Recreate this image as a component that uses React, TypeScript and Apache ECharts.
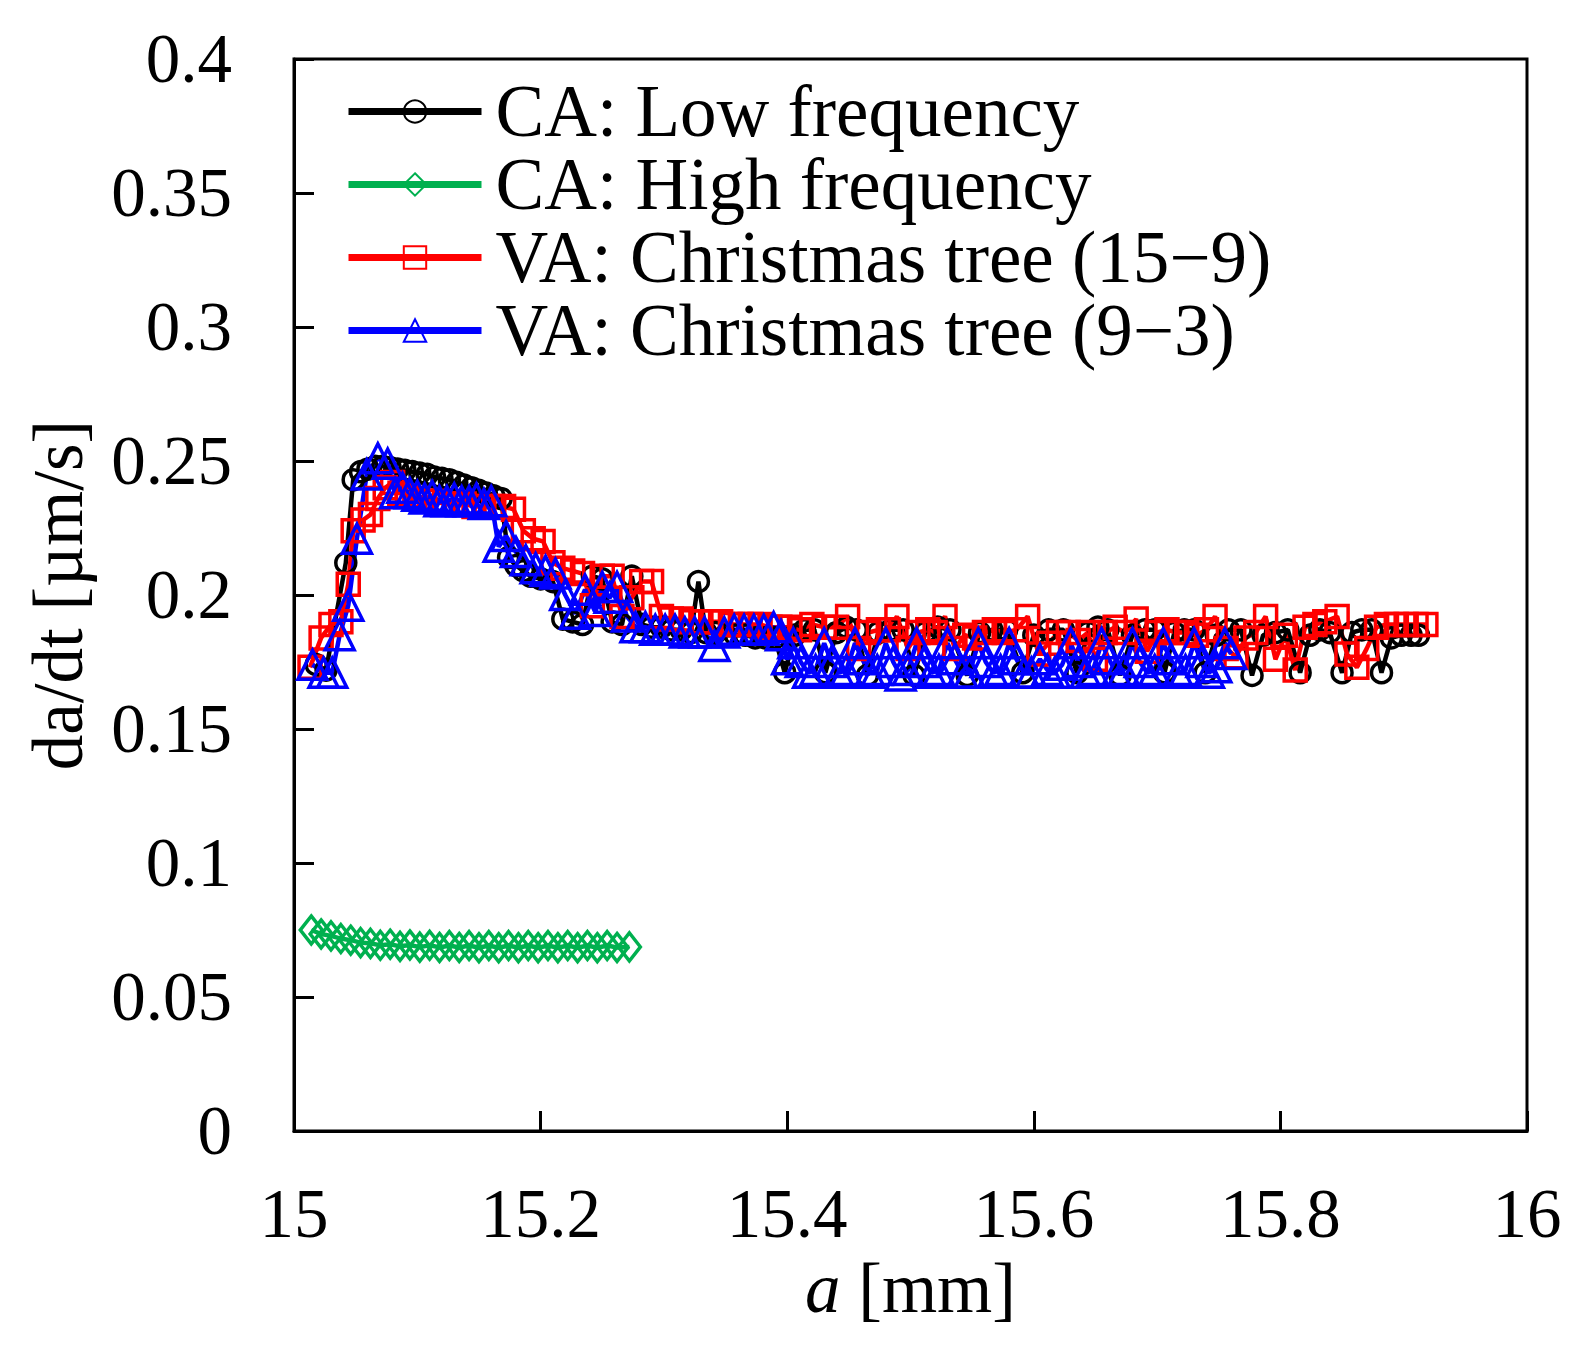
import React, { useEffect, useRef } from "react";
import * as echarts from "echarts";

const FONT = "Liberation Serif";

const seriesNames = [
  "CA: Low frequency",
  "CA: High frequency",
  "VA: Christmas tree (15\u22129)",
  "VA: Christmas tree (9\u22123)",
];

// CA: Low frequency (black, circles)
const lowX = [
  15.018, 15.026, 15.042, 15.048, 15.054, 15.06, 15.066, 15.072, 15.078, 15.084,
  15.09, 15.096, 15.102, 15.108, 15.114, 15.12, 15.126, 15.132, 15.138, 15.144,
  15.15, 15.156, 15.162, 15.168, 15.174, 15.18, 15.186, 15.192, 15.2, 15.21,
  15.218, 15.226, 15.234, 15.242, 15.25, 15.258, 15.266, 15.274, 15.282, 15.29,
  15.298, 15.306, 15.314, 15.322, 15.328, 15.334, 15.342, 15.35, 15.358, 15.366,
  15.374, 15.382, 15.39, 15.398, 15.406, 15.414, 15.422, 15.431, 15.44, 15.448,
  15.456, 15.465, 15.474, 15.484, 15.494, 15.503, 15.512, 15.522, 15.532, 15.546,
  15.556, 15.566, 15.578, 15.591, 15.6, 15.612, 15.624, 15.635, 15.644, 15.652,
  15.66, 15.67, 15.68, 15.69, 15.698, 15.706, 15.714, 15.722, 15.73, 15.739,
  15.748, 15.758, 15.768, 15.777, 15.786, 15.796, 15.806, 15.816, 15.824, 15.832,
  15.84, 15.85, 15.858, 15.866, 15.874, 15.882, 15.89, 15.898, 15.906, 15.912,
];
const lowY = [
  0.174, 0.172, 0.212, 0.243, 0.246, 0.247, 0.248, 0.248, 0.2475, 0.247,
  0.2465, 0.246, 0.2455, 0.245, 0.244, 0.2435, 0.243, 0.242, 0.241, 0.24,
  0.239, 0.238, 0.237, 0.236, 0.214, 0.211, 0.209, 0.207, 0.206, 0.205,
  0.191, 0.19, 0.189, 0.207, 0.206, 0.19, 0.189, 0.207, 0.189, 0.188,
  0.188, 0.187, 0.187, 0.186, 0.205, 0.186, 0.186, 0.185, 0.185, 0.185,
  0.184, 0.184, 0.184, 0.171, 0.185, 0.187, 0.187, 0.171, 0.186, 0.188,
  0.187, 0.17, 0.186, 0.187, 0.187, 0.17, 0.186, 0.188, 0.187, 0.17,
  0.186, 0.187, 0.187, 0.171, 0.185, 0.187, 0.187, 0.171, 0.186, 0.188,
  0.187, 0.17, 0.185, 0.187, 0.187, 0.171, 0.186, 0.187, 0.187, 0.171,
  0.185, 0.187, 0.187, 0.17, 0.185, 0.186, 0.187, 0.171, 0.185, 0.187,
  0.186, 0.171, 0.186, 0.187, 0.187, 0.171, 0.184, 0.185, 0.185, 0.185,
];

// CA: High frequency (green, diamonds)
const highX = [
  15.014, 15.022, 15.03, 15.038, 15.046, 15.054, 15.062, 15.07, 15.078, 15.086,
  15.094, 15.102, 15.11, 15.118, 15.126, 15.134, 15.142, 15.15, 15.158, 15.166,
  15.174, 15.182, 15.19, 15.198, 15.206, 15.214, 15.222, 15.23, 15.238, 15.246,
  15.254, 15.262, 15.272,
];
const highY = [
  0.075, 0.0735, 0.0728, 0.0718, 0.0712, 0.0703, 0.07, 0.0693, 0.0697, 0.0689,
  0.0694, 0.0686, 0.0693, 0.0685, 0.0692, 0.0685, 0.0692, 0.0684, 0.0692, 0.0684,
  0.0692, 0.0684, 0.0692, 0.0684, 0.0692, 0.0684, 0.0692, 0.0684, 0.0692, 0.0684,
  0.0692, 0.0685, 0.0687,
];

// VA: Christmas tree (15-9) (red, squares)
const treeAX = [
  15.013, 15.022, 15.03, 15.038, 15.044, 15.048, 15.056, 15.062, 15.068, 15.074,
  15.08, 15.086, 15.092, 15.098, 15.106, 15.114, 15.122, 15.13, 15.138, 15.146,
  15.154, 15.162, 15.17, 15.178, 15.186, 15.194, 15.202, 15.21, 15.218, 15.226,
  15.234, 15.242, 15.25, 15.258, 15.266, 15.274, 15.282, 15.29, 15.298, 15.306,
  15.314, 15.322, 15.33, 15.338, 15.346, 15.354, 15.362, 15.37, 15.378, 15.386,
  15.394, 15.402, 15.41, 15.42, 15.43, 15.44, 15.449, 15.458, 15.466, 15.474,
  15.482, 15.489, 15.498, 15.506, 15.514, 15.52, 15.528, 15.536, 15.544, 15.552,
  15.56, 15.568, 15.576, 15.586, 15.595, 15.604, 15.612, 15.62, 15.628, 15.636,
  15.644, 15.65, 15.658, 15.666, 15.674, 15.683, 15.692, 15.7, 15.708, 15.716,
  15.724, 15.732, 15.74, 15.747, 15.756, 15.764, 15.772, 15.78, 15.788, 15.796,
  15.804, 15.812, 15.82, 15.828, 15.836, 15.846, 15.854, 15.862, 15.87, 15.878,
  15.886, 15.894, 15.902, 15.91, 15.918,
];
const treeAY = [
  0.173, 0.184, 0.189, 0.19, 0.204, 0.224, 0.228, 0.23, 0.236, 0.24,
  0.242, 0.238, 0.237, 0.236, 0.235, 0.235, 0.234, 0.234, 0.234, 0.233,
  0.233, 0.233, 0.233, 0.232, 0.224, 0.221, 0.22, 0.212, 0.21, 0.209,
  0.208, 0.196, 0.207, 0.207, 0.192, 0.199, 0.205, 0.205, 0.192, 0.191,
  0.191, 0.19, 0.19, 0.19, 0.19, 0.189, 0.189, 0.189, 0.189, 0.188,
  0.188, 0.188, 0.187, 0.189, 0.188, 0.188, 0.192, 0.18, 0.186, 0.187,
  0.187, 0.192, 0.18, 0.186, 0.187, 0.186, 0.192, 0.18, 0.185, 0.184,
  0.186, 0.187, 0.186, 0.187, 0.192, 0.178, 0.182, 0.186, 0.186, 0.183,
  0.186, 0.176, 0.186, 0.188, 0.186, 0.191, 0.179, 0.186, 0.187, 0.186,
  0.186, 0.185, 0.187, 0.192, 0.18, 0.177, 0.184, 0.186, 0.192, 0.176,
  0.185, 0.172, 0.188, 0.189, 0.19, 0.192, 0.178, 0.173, 0.18, 0.188,
  0.189, 0.189, 0.189, 0.189, 0.189,
];

// VA: Christmas tree (9-3) (blue, triangles)
const treeBX = [
  15.015, 15.024, 15.031, 15.037, 15.044, 15.051, 15.059, 15.068, 15.076, 15.082,
  15.088, 15.094, 15.1, 15.106, 15.112, 15.118, 15.124, 15.13, 15.136, 15.142,
  15.148, 15.154, 15.16, 15.166, 15.172, 15.18, 15.188, 15.196, 15.204, 15.212,
  15.22, 15.228, 15.236, 15.244, 15.25, 15.256, 15.262, 15.27, 15.277, 15.285,
  15.293, 15.301, 15.309, 15.317, 15.325, 15.333, 15.341, 15.349, 15.357, 15.365,
  15.373, 15.381, 15.389, 15.395, 15.4, 15.405, 15.411, 15.417, 15.423, 15.43,
  15.436, 15.442, 15.448, 15.455, 15.461, 15.467, 15.473, 15.48, 15.486, 15.492,
  15.498, 15.505, 15.511, 15.517, 15.523, 15.53, 15.536, 15.542, 15.548, 15.555,
  15.561, 15.567, 15.573, 15.58, 15.586, 15.592, 15.598, 15.605, 15.611, 15.617,
  15.623, 15.63, 15.636, 15.642, 15.648, 15.655, 15.661, 15.667, 15.673, 15.68,
  15.686, 15.692, 15.698, 15.705, 15.711, 15.717, 15.723, 15.73, 15.736, 15.742,
  15.748, 15.755, 15.76,
];
const treeBY = [
  0.174, 0.171, 0.171, 0.185, 0.196, 0.221, 0.245, 0.251, 0.249, 0.238,
  0.24, 0.238, 0.237, 0.236, 0.237, 0.235, 0.235, 0.236, 0.235, 0.235,
  0.236, 0.234, 0.235, 0.218, 0.222, 0.216, 0.213, 0.21, 0.209, 0.208,
  0.2, 0.193, 0.202, 0.194, 0.203, 0.199, 0.203, 0.192, 0.188, 0.188,
  0.187, 0.187, 0.187, 0.186, 0.186, 0.186, 0.181, 0.186, 0.187, 0.187,
  0.187, 0.187, 0.188, 0.185, 0.176, 0.182, 0.175, 0.171, 0.172, 0.182,
  0.175, 0.171, 0.172, 0.182, 0.176, 0.171, 0.172, 0.182, 0.175, 0.17,
  0.172, 0.182, 0.175, 0.171, 0.172, 0.182, 0.176, 0.171, 0.171, 0.182,
  0.175, 0.171, 0.172, 0.182, 0.176, 0.171, 0.171, 0.176, 0.172, 0.171,
  0.174, 0.182, 0.175, 0.171, 0.172, 0.182, 0.176, 0.171, 0.172, 0.182,
  0.175, 0.171, 0.172, 0.182, 0.176, 0.171, 0.172, 0.182, 0.175, 0.171,
  0.173, 0.182, 0.178,
];

const xTicks = { min: 15, max: 16, interval: 0.2 };
const yTicks = { min: 0, max: 0.4, interval: 0.05 };

const pairs = (xs: number[], ys: number[]) => xs.map((x, i) => [x, ys[i]]);

const App = () => {
  const chartRef = useRef<HTMLDivElement>(null);

  useEffect(() => {
    if (!chartRef.current) return;
    const chart = echarts.init(chartRef.current, null, { renderer: "svg" });

    const mk = (
      name: string,
      data: number[][],
      color: string,
      symbol: string,
      symbolSize: number | number[]
    ) => ({
      name,
      type: "line",
      data,
      symbol,
      symbolSize,
      showAllSymbol: true,
      lineStyle: { color, width: 4.5 },
      itemStyle: { color: "rgba(0,0,0,0)", borderColor: color, borderWidth: 3.5 },
      emphasis: { disabled: true },
    });

    const option: any = {
      animation: false,
      backgroundColor: "#fff",
      grid: {
        left: 286,
        right: 53,
        top: 51,
        bottom: 210,
        show: true,
        borderColor: "#000",
        borderWidth: 3,
      },
      legend: {
        orient: "vertical",
        left: 332,
        top: 62,
        itemWidth: 133,
        itemHeight: 28,
        itemGap: 0,
        textStyle: {
          fontFamily: FONT,
          fontSize: 73,
          lineHeight: 71,
          color: "#000",
          padding: [0, 0, 0, 9],
        },
        lineStyle: { width: 7 },
        data: seriesNames,
      },
      xAxis: {
        type: "value",
        ...xTicks,
        name: "{it|a} [mm]",
        nameLocation: "middle",
        nameGap: 107,
        nameTextStyle: {
          fontFamily: FONT,
          fontSize: 71,
          color: "#000",
          rich: { it: { fontFamily: FONT, fontSize: 71, fontStyle: "italic", color: "#000" } },
        },
        axisLine: { lineStyle: { color: "#000", width: 3 } },
        axisTick: { inside: true, length: 20, lineStyle: { color: "#000", width: 3 } },
        axisLabel: { fontFamily: FONT, fontSize: 69, color: "#000", margin: 48 },
        splitLine: { show: false },
      },
      yAxis: {
        type: "value",
        ...yTicks,
        name: "da/dt [\u00b5m/s]",
        nameLocation: "middle",
        nameGap: 201,
        nameTextStyle: { fontFamily: FONT, fontSize: 71, color: "#000" },
        axisLine: { lineStyle: { color: "#000", width: 3 } },
        axisTick: { inside: true, length: 20, lineStyle: { color: "#000", width: 3 } },
        axisLabel: { fontFamily: FONT, fontSize: 69, color: "#000", margin: 62 },
        splitLine: { show: false },
      },
      series: [
        mk(seriesNames[0], pairs(lowX, lowY), "#000000", "circle", 20),
        mk(seriesNames[1], pairs(highX, highY), "#00b04f", "diamond", [22, 28]),
        mk(seriesNames[2], pairs(treeAX, treeAY), "#ff0000", "rect", 22),
        mk(seriesNames[3], pairs(treeBX, treeBY), "#0000ff", "triangle", 29),
      ],
    };

    chart.setOption(option);
    return () => chart.dispose();
  }, []);

  return <div ref={chartRef} style={{ width: 1572, height: 1333 }} />;
};

export default App;
